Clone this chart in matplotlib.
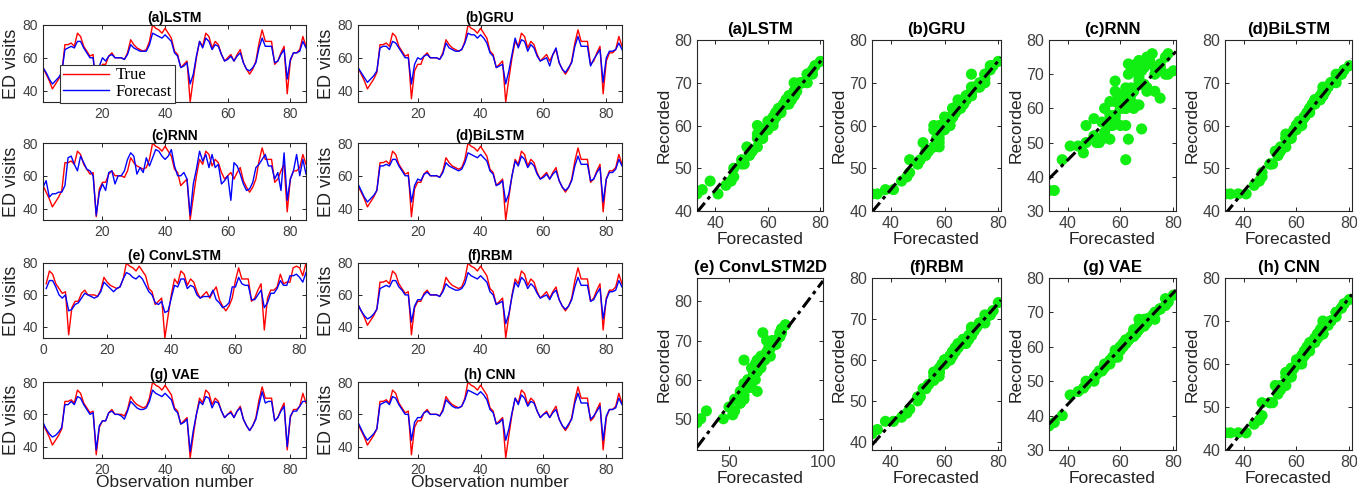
import numpy as np
import matplotlib
matplotlib.use("Agg")
import matplotlib.pyplot as plt

# ---------------- data ----------------
true_vals = [54,50,46,41,44,47,51,68,68,69,
             67,75,73,67,64,61,62,35,52,56,
             56,61,63,60,60,60,59,63,71,68,
             66,65,64,65,70,80,78,77,75,78,
             75,72,64,62,54,56,58,33,47,60,
             70,67,75,73,66,70,68,62,58,60,
             62,58,62,65,57,53,50,53,58,69,
             77,70,70,70,56,58,63,67,38,58,
             63,63,65,73,67,68,68,77,78,77,
             72,80]

lstm_f = [54,51,47,44,46,48,51,65,66,67,
          66,70,70,66,63,60,60,45,55,60,
          58,61,62,60,60,60,59,62,68,66,
          65,64,64,64,68,75,74,73,72,74,
          72,70,63,61,54,55,57,44,50,61,
          70,66,72,70,65,68,67,62,58,59,
          61,58,61,63,57,53,52,54,57,66,
          72,67,67,67,57,58,62,65,47,59,
          63,63,64,70,66]

gru_f = [54,51,48,45,47,49,52,66,67,67,
         65,70,69,66,63,60,60,44,56,60,
         59,61,62,60,60,60,59,62,69,66,
         65,64,64,65,69,75,74,74,72,74,
         72,69,63,61,54,55,56,44,52,62,
         72,66,71,70,64,68,66,61,58,59,
         60,55,62,66,57,53,51,54,57,67,
         73,67,67,67,55,59,62,65,45,60,
         64,64,65,69,65]

rnn_f = [53,57,47,49,49,50,50,54,71,72,
         67,63,72,68,64,63,60,36,50,55,
         51,62,63,55,60,60,63,70,74,72,
         61,65,62,71,66,71,76,75,72,70,
         72,76,66,60,60,62,58,36,55,64,
         75,69,73,65,73,65,67,55,57,60,
         45,68,66,61,55,51,52,56,65,67,
         70,73,66,66,58,62,51,74,45,58,
         63,73,60,70,61]

bilstm_f = [55,51,47,44,46,48,51,66,66,67,
            66,70,70,66,63,60,60,44,54,58,
            57,61,62,60,60,60,59,62,68,66,
            65,64,63,64,68,74,73,72,71,73,
            71,69,63,61,54,55,57,44,49,60,
            69,66,72,70,65,68,66,61,58,59,
            61,58,61,63,57,53,51,53,57,66,
            72,67,67,67,57,58,62,65,44,58,
            62,62,64,70,66]

convlstm_f = [64,69,69,65,60,58,60,50,51,54,
              55,58,61,60,59,58,59,62,68,66,
              64,62,64,65,70,74,73,71,70,72,
              70,66,62,60,55,54,56,49,50,58,
              66,65,70,70,64,66,65,60,58,59,
              59,59,63,57,55,52,53,55,65,65,
              71,67,66,66,57,57,60,63,52,55,
              61,61,64,69,66,66,72,72,73,71,
              68,74]

rbm_f = [54,50,47,45,46,48,51,64,65,66,
         65,69,69,65,63,60,60,43,53,57,
         57,60,62,60,60,60,59,62,67,65,
         64,63,63,64,67,74,72,71,70,72,
         70,68,62,60,54,55,56,42,48,59,
         68,65,71,69,64,67,65,61,58,59,
         60,57,61,63,57,53,51,53,57,65,
         71,66,66,66,56,57,61,64,45,57,
         62,62,63,69,65]

vae_f = [55,51,48,46,47,49,52,66,66,68,
         66,71,70,66,63,60,61,38,53,56,
         56,61,62,60,60,59,57,62,68,66,
         64,63,63,64,68,75,73,72,71,73,
         71,69,63,61,54,55,57,37,50,60,
         68,66,71,70,64,68,67,62,58,60,
         61,58,62,64,57,53,50,53,57,66,
         74,67,68,68,56,58,62,65,40,59,
         62,62,65,68,68]

cnn_f = [55,51,47,44,46,48,51,66,67,68,
         66,71,70,66,63,60,60,44,55,58,
         58,61,62,60,60,60,59,62,69,67,
         65,64,64,65,69,75,74,73,72,74,
         72,69,63,61,54,55,57,44,51,61,
         70,66,72,70,65,68,67,62,58,60,
         61,58,61,63,57,53,51,54,57,67,
         73,67,67,67,57,59,62,65,44,59,
         63,63,64,70,66]

line_titles = ["(a)LSTM", "(b)GRU", "(c)RNN", "(d)BiLSTM",
               "(e) ConvLSTM", "(f)RBM", "(g) VAE", "(h) CNN"]
scatter_titles = ["(a)LSTM", "(b)GRU", "(c)RNN", "(d)BiLSTM",
                  "(e) ConvLSTM2D", "(f)RBM", "(g) VAE", "(h) CNN"]
forecasts = [lstm_f, gru_f, rnn_f, bilstm_f, convlstm_f, rbm_f, vae_f, cnn_f]
conv_offset = 10  # ConvLSTM series starts 10 observations later

# ---------------- figure ----------------
W, H = 1357, 491
fig = plt.figure(figsize=(W / 100, H / 100), dpi=100)
plt.rcParams['font.family'] = ['Liberation Sans', 'DejaVu Sans']

AXC = '#262626'
TXT = '#404040'


def add_ax(l, t, r, b):
    return fig.add_axes([l / W, 1 - b / H, (r - l) / W, (b - t) / H])


def style(ax, fs):
    for s in ax.spines.values():
        s.set_color(AXC)
        s.set_linewidth(0.8)
    ax.tick_params(direction='in', length=3, width=0.7, colors=AXC,
                   labelcolor=TXT, labelsize=fs, top=True, right=True)


true_arr = np.array(true_vals)

# ---- left: time series panels ----
lcols = [(43, 306), (358, 622)]
lrows = [(25, 102), (143, 220), (263, 338), (382, 458)]
for i in range(8):
    r, c = divmod(i, 2)
    ax = add_ax(lcols[c][0], lrows[r][0], lcols[c][1], lrows[r][1])
    f = np.array(forecasts[i])
    n = len(f)
    x = np.arange(1, n + 1)
    if i == 4:
        tv = true_arr[conv_offset:conv_offset + n]
        ax.set_xlim(0, 82)
        ax.set_xticks([0, 20, 40, 60, 80])
    else:
        tv = true_arr[:n]
        ax.set_xlim(1, 85)
        ax.set_xticks([20, 40, 60, 80])
    ax.plot(x, tv, color='#ff0000', lw=1.0, label='True')
    ax.plot(x, f, color='#0000ff', lw=1.0, label='Forecast')
    ax.set_ylim(33, 80)
    ax.set_yticks([40, 60, 80])
    style(ax, 10)
    ax.set_title(line_titles[i], fontsize=10, fontweight='bold', pad=2)
    ax.set_ylabel('ED visits', fontsize=13, color='#222222', labelpad=2)
    if r == 3:
        ax.set_xlabel('Observation number', fontsize=12.5, color='#222222', labelpad=-1)
    if i == 0:
        leg = ax.legend(loc='lower left', bbox_to_anchor=(0.065, -0.01),
                        prop={'family': 'Liberation Serif', 'size': 12},
                        fancybox=False, edgecolor='#333333', framealpha=1,
                        handlelength=2.8, borderpad=0.15, labelspacing=0.05,
                        handletextpad=0.4, borderaxespad=0)
        leg.get_frame().set_linewidth(0.8)

# ---- right: scatter panels ----
rcols = [(697, 823), (872, 1001), (1049, 1176), (1225, 1352)]
rrows = [(40, 211), (278, 450)]
ylims = [(40, 80), (40, 80), (30, 80), (40, 80),
         (42, 86), (38, 80), (30, 80), (40, 80)]
for i in range(8):
    r, c = divmod(i, 4)
    ax = add_ax(rcols[c][0], rrows[r][0], rcols[c][1], rrows[r][1])
    f = np.array(forecasts[i])
    n = len(f)
    if i == 4:
        tv = true_arr[conv_offset:conv_offset + n]
        xl = (33, 100)
        ax.set_xticks([50, 100])
        ax.set_yticks([50, 60, 70, 80])
    else:
        tv = true_arr[:n]
        xl = (33, 81)
        ax.set_xticks([40, 60, 80])
        ax.set_yticks(np.arange(ylims[i][0] + (10 - ylims[i][0] % 10) % 10, 81, 10))
    ax.scatter(tv, f, s=64, color='#11ee11', edgecolors='none', zorder=2)
    k, b0 = np.polyfit(tv, f, 1)
    xx = np.array(xl, dtype=float)
    ax.plot(xx, k * xx + b0, color='black', lw=2.2,
            dashes=(4, 1.5, 1.2, 1.5), zorder=3)
    ax.set_xlim(*xl)
    ax.set_ylim(*ylims[i])
    style(ax, 11.5)
    ax.set_title(scatter_titles[i], fontsize=12, fontweight='bold', pad=4)
    ax.set_ylabel('Recorded', fontsize=12.5, color='#222222', labelpad=2)
    ax.set_xlabel('Forecasted', fontsize=12.5, color='#222222', labelpad=1)

fig.savefig('out.png', dpi=100)
